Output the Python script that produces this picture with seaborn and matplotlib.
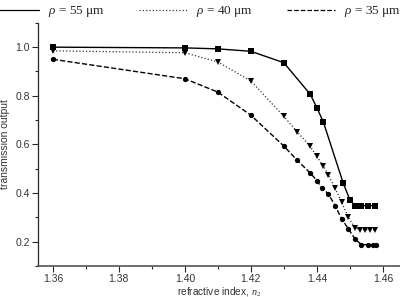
import pandas as pd
import matplotlib
matplotlib.use("Agg")
import matplotlib.pyplot as plt
from matplotlib.lines import Line2D
from matplotlib.ticker import MultipleLocator
import seaborn as sns

# refractive index n2 and transmission output for each core radius rho
n_55 = [1.36, 1.40, 1.41, 1.42, 1.43, 1.438, 1.440, 1.442, 1.448, 1.450,
        1.4515, 1.4535, 1.4555, 1.4575]
t_55 = [1.000, 0.997, 0.993, 0.983, 0.936, 0.806, 0.751, 0.691, 0.440, 0.372,
        0.348, 0.348, 0.348, 0.348]

n_40 = [1.36, 1.40, 1.41, 1.42, 1.43, 1.434, 1.438, 1.440, 1.442, 1.4435,
        1.4455, 1.4475, 1.4495, 1.4515, 1.453, 1.4545, 1.456, 1.4575]
t_40 = [0.985, 0.977, 0.939, 0.861, 0.715, 0.652, 0.592, 0.550, 0.511, 0.474,
        0.420, 0.362, 0.301, 0.257, 0.249, 0.249, 0.249, 0.249]

n_35 = [1.36, 1.40, 1.41, 1.42, 1.43, 1.434, 1.438, 1.440, 1.4415, 1.4435,
        1.4455, 1.4475, 1.4495, 1.4515, 1.4535, 1.4555, 1.457, 1.458]
t_35 = [0.950, 0.870, 0.815, 0.720, 0.593, 0.535, 0.482, 0.451, 0.421, 0.396,
        0.348, 0.294, 0.253, 0.212, 0.187, 0.187, 0.187, 0.187]

legend_labels = [r"$\rho\,=\,55\ \mathrm{\mu m}$", r"$\rho\,=\,40\ \mathrm{\mu m}$",
                 r"$\rho\,=\,35\ \mathrm{\mu m}$"]

sns.set_style("ticks")
plt.rcParams["font.family"] = ["Liberation Sans", "DejaVu Sans"]
plt.rcParams["mathtext.fontset"] = "custom"
plt.rcParams["mathtext.rm"] = "Liberation Serif"
plt.rcParams["mathtext.it"] = "Liberation Serif:italic"

fig = plt.figure(figsize=(4.0, 2.97), dpi=100)
ax = fig.add_axes([0.095, 0.105, 0.905, 0.818])

series = [
    (n_55, t_55, "-", "s", "black", 1.0),
    (n_40, t_40, ":", "v", "#333333", 0.9),
    (n_35, t_35, "--", "o", "black", 1.0),
]
for xs, ys, ls, mk, col, lw in series:
    sns.lineplot(x=xs, y=ys, ax=ax, color=col, linestyle=ls, linewidth=lw,
                 marker=mk, markersize=3.8, markeredgewidth=0,
                 markerfacecolor="black")

ax.set_xlim(1.3555, 1.4652)
ax.set_ylim(0.1, 1.1)
ax.xaxis.set_minor_locator(MultipleLocator(0.01))
ax.yaxis.set_minor_locator(MultipleLocator(0.1))
ax.set_xticks([1.36, 1.38, 1.40, 1.42, 1.44, 1.46])
ax.set_xticklabels(["1.36", "1.38", "1.40", "1.42", "1.44", "1.46"])
ax.set_yticks([0.2, 0.4, 0.6, 0.8, 1.0])
ax.set_yticklabels(["0.2", "0.4", "0.6", "0.8", "1.0"])
ax.tick_params(axis="both", which="major", length=4, width=0.8,
               labelsize=7.5, labelcolor="#333333", pad=2)
ax.tick_params(axis="both", which="minor", length=2.5, width=0.8)

sns.despine(ax=ax)
ax.spines["left"].set_linewidth(0.9)
ax.spines["bottom"].set_linewidth(1.2)
ax.spines["bottom"].set_color("#555555")

ax.set_xlabel(r"refractive index, $n_2$", fontsize=7.3, color="#333333",
              labelpad=0)
ax.set_ylabel("transmission output", fontsize=7.5, color="#333333",
              labelpad=1)
ax.xaxis.set_label_coords(0.5, -0.08)
ax.yaxis.set_label_coords(-0.078, 0.5)

handles = [Line2D([], [], color="black", linestyle="-", linewidth=0.9),
           Line2D([], [], color="#333333", linestyle=":", linewidth=0.9),
           Line2D([], [], color="black", linestyle="--", linewidth=0.9)]
fig.legend(handles, legend_labels, loc="upper center", ncol=3, frameon=False,
           fontsize=9.5, bbox_to_anchor=(0.49, 1.025), handlelength=3.6,
           columnspacing=2.6, handletextpad=0.7)

fig.savefig("out.png", dpi=100)
